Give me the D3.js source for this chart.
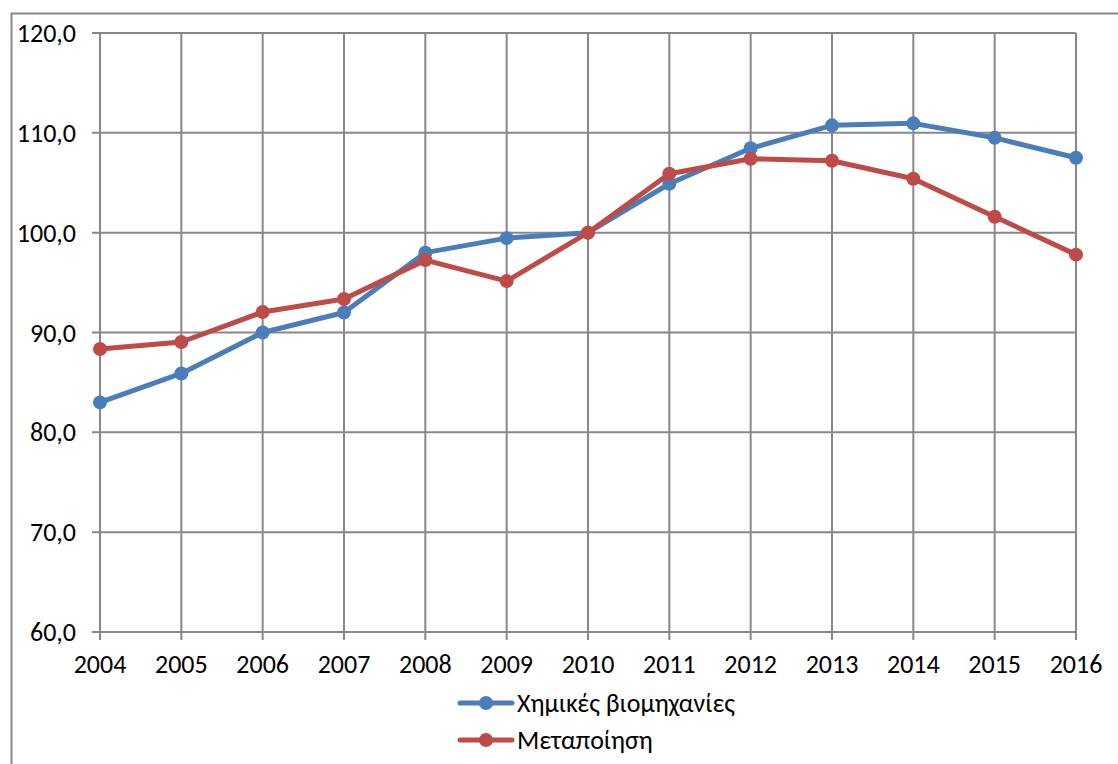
<!DOCTYPE html>
<html>
<head>
<meta charset="utf-8">
<script src="https://cdn.jsdelivr.net/npm/d3@7.9.0/dist/d3.min.js"></script>
<style>
  body { margin: 0; background: #fff; }
  svg { display: block; font-family: Carlito, "Open Sans", "Liberation Sans", sans-serif; }
</style>
</head>
<body>
<svg id="chart" width="1118" height="764"></svg>
<script>
// ====== Data ======
const years = [2004, 2005, 2006, 2007, 2008, 2009, 2010, 2011, 2012, 2013, 2014, 2015, 2016];
const chemicals = [83.0, 85.9, 90.0, 92.0, 98.0, 99.45, 100.0, 104.9, 108.45, 110.75, 110.95, 109.5, 107.5];
const manufacturing = [88.35, 89.05, 92.05, 93.35, 97.25, 95.15, 100.0, 105.9, 107.4, 107.2, 105.4, 101.6, 97.8];
const yTicks = [60, 70, 80, 90, 100, 110, 120];
const seriesNames = ['Χημικές βιομηχανίες', 'Μεταποίηση'];
const seriesColors = ['#4a7ebb', '#be4b48'];

const svg = d3.select('#chart');
const grid = '#888888';
const fontSize = 26;

// ====== Outer frame (only top and left visible) ======
svg.append('path')
  .attr('d', 'M11.5,764 V13.5 H1118')
  .attr('fill', 'none')
  .attr('stroke', grid)
  .attr('stroke-width', 2);

// ====== Scales ======
const x = d3.scalePoint().domain(years).range([100, 1076]);
const y = d3.scaleLinear().domain([60, 120]).range([632, 33]);

// ====== Grid ======
svg.append('g')
  .selectAll('line')
  .data(yTicks)
  .join('line')
  .attr('x1', 92).attr('x2', 1076)
  .attr('y1', (d) => y(d)).attr('y2', (d) => y(d))
  .attr('stroke', grid).attr('stroke-width', 2);

svg.append('g')
  .selectAll('line')
  .data(years)
  .join('line')
  .attr('x1', (d) => x(d)).attr('x2', (d) => x(d))
  .attr('y1', y(120)).attr('y2', 640)
  .attr('stroke', grid).attr('stroke-width', 2);

// ====== Axis labels ======
svg.append('g')
  .selectAll('text')
  .data(yTicks)
  .join('text')
  .attr('x', 76)
  .attr('y', (d) => y(d) + 9)
  .attr('text-anchor', 'end')
  .attr('font-size', fontSize)
  .text((d) => d3.format('.1f')(d).replace('.', ','));

svg.append('g')
  .selectAll('text')
  .data(years)
  .join('text')
  .attr('x', (d) => x(d))
  .attr('y', 673)
  .attr('text-anchor', 'middle')
  .attr('font-size', fontSize)
  .text((d) => d);

// ====== Lines ======
const line = d3.line().x((d, i) => x(years[i])).y((d) => y(d));

[chemicals, manufacturing].forEach((vals, s) => {
  svg.append('path')
    .attr('d', line(vals))
    .attr('fill', 'none')
    .attr('stroke', seriesColors[s])
    .attr('stroke-width', 5)
    .attr('stroke-linejoin', 'round');
  svg.append('g')
    .selectAll('circle')
    .data(vals)
    .join('circle')
    .attr('cx', (d, i) => x(years[i]))
    .attr('cy', (d) => y(d))
    .attr('r', 7)
    .attr('fill', seriesColors[s]);
});

// ====== Legend ======
seriesNames.forEach((name, i) => {
  const ly = 703 + i * 37;
  svg.append('line')
    .attr('x1', 460).attr('x2', 512)
    .attr('y1', ly).attr('y2', ly)
    .attr('stroke', seriesColors[i]).attr('stroke-width', 5)
    .attr('stroke-linecap', 'round');
  svg.append('circle')
    .attr('cx', 486).attr('cy', ly).attr('r', 7)
    .attr('fill', seriesColors[i]);
  svg.append('text')
    .attr('x', 517).attr('y', ly + 9)
    .attr('font-size', fontSize)
    .text(name);
});
</script>
</body>
</html>
